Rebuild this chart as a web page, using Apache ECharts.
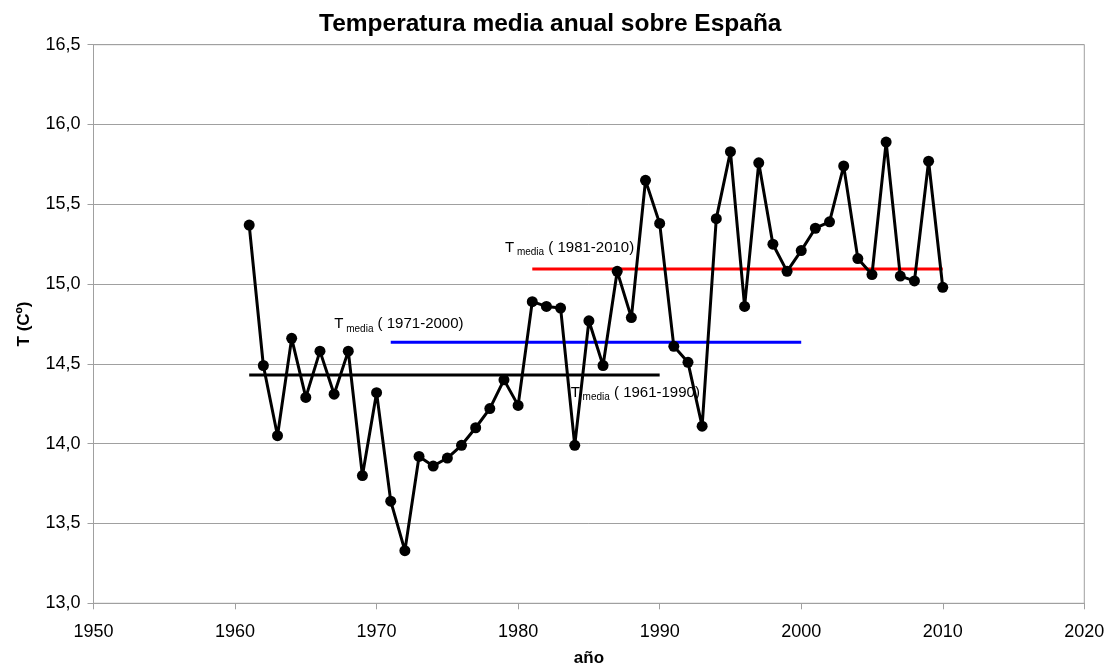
<!DOCTYPE html>
<html>
<head>
<meta charset="utf-8">
<script src="https://cdn.jsdelivr.net/npm/echarts@6/dist/echarts.min.js"></script>
<style>html,body{margin:0;padding:0;background:#fff;}#c{width:1111px;height:669px;}</style>
</head>
<body>
<div id="c"></div>
<script>
const years = [1961,1962,1963,1964,1965,1966,1967,1968,1969,1970,1971,1972,1973,1974,1975,1976,1977,1978,1979,1980,1981,1982,1983,1984,1985,1986,1987,1988,1989,1990,1991,1992,1993,1994,1995,1996,1997,1998,1999,2000,2001,2002,2003,2004,2005,2006,2007,2008,2009,2010];
const temps = [15.37,14.49,14.05,14.66,14.29,14.58,14.31,14.58,13.80,14.32,13.64,13.33,13.92,13.86,13.91,13.99,14.10,14.22,14.40,14.24,14.89,14.86,14.85,13.99,14.77,14.49,15.08,14.79,15.65,15.38,14.61,14.51,14.11,15.41,15.83,14.86,15.76,15.25,15.08,15.21,15.35,15.39,15.74,15.16,15.06,15.89,15.05,15.02,15.77,14.98];
const periods = ['1961-1990','1971-2000','1981-2010'];
const periodStart = [1961,1971,1981];
const periodEnd = [1990,2000,2010];
const periodMean = [14.43,14.635,15.095];
const periodColors = ['#000000','#0000ff','#ff0000'];
const yTicks = [13.0,13.5,14.0,14.5,15.0,15.5,16.0,16.5];
const xTicks = [1950,1960,1970,1980,1990,2000,2010,2020];

const FONT = "'Liberation Sans', Arial, sans-serif";
const labelAnchor = [[1983.71,14.317],[1967.01,14.748],[1979.07,15.229]];

const chart = echarts.init(document.getElementById('c'), null, {renderer:'canvas'});

const avgSeries = periods.map((p,i) => ({
  type:'line',
  data:[[periodStart[i],periodMean[i]],[periodEnd[i],periodMean[i]]],
  symbol:'none',
  lineStyle:{color:periodColors[i], width:3},
  silent:true,
  z:2,
  markPoint:{
    symbol:'circle', symbolSize:0,
    data:[{coord:labelAnchor[i], value:p}],
    label:{
      show:true, position:'right', distance:0,
      formatter:'{a|T}{b| media}{a| ( ' + p + ')}',
      rich:{
        a:{fontFamily:FONT, fontSize:15, color:'#000', lineHeight:18, verticalAlign:'middle'},
        b:{fontFamily:FONT, fontSize:10, color:'#000', lineHeight:18, padding:[9,0,0,0]}
      }
    }
  }
}));

chart.setOption({
  animation:false,
  backgroundColor:'#fff',
  title:{
    text:'Temperatura media anual sobre España',
    left:314, top:7,
    textStyle:{fontFamily:FONT, fontSize:24.5, fontWeight:'bold', color:'#000'}
  },
  grid:{left:93.5, right:26.7, top:44.7, bottom:65.7, show:true, borderColor:'#a0a0a0', borderWidth:1,
        containLabel:false, outerBoundsMode:'none'},
  xAxis:{
    type:'value', min:xTicks[0], max:xTicks[xTicks.length-1], interval:10,
    name:'año', nameLocation:'middle', nameGap:47,
    nameTextStyle:{fontFamily:FONT, fontSize:17, fontWeight:'bold', color:'#000'},
    axisLine:{show:true, lineStyle:{color:'#a0a0a0', width:1}},
    axisTick:{show:true, length:6, lineStyle:{color:'#a0a0a0'}},
    splitLine:{show:false},
    axisLabel:{fontFamily:FONT, fontSize:18, color:'#000', margin:20, formatter:v=>String(v)}
  },
  yAxis:{
    type:'value', min:yTicks[0], max:yTicks[yTicks.length-1], interval:0.5,
    name:'T (Cº)', nameLocation:'middle', nameGap:61, nameRotate:90,
    nameTextStyle:{fontFamily:FONT, fontSize:17, fontWeight:'bold', color:'#000'},
    axisLine:{show:true, lineStyle:{color:'#a0a0a0', width:1}},
    axisTick:{show:true, length:6, lineStyle:{color:'#a0a0a0'}},
    splitLine:{show:true, lineStyle:{color:'#a0a0a0', width:1}},
    axisLabel:{fontFamily:FONT, fontSize:18, color:'#000', margin:13, formatter:v=>v.toFixed(1).replace('.',',')}
  },
  series:[...avgSeries, {
    type:'line',
    data:years.map((y,i)=>[y,temps[i]]),
    symbol:'circle', symbolSize:11,
    itemStyle:{color:'#000'},
    lineStyle:{color:'#000', width:3},
    z:3
  }]
});
</script>
</body>
</html>
